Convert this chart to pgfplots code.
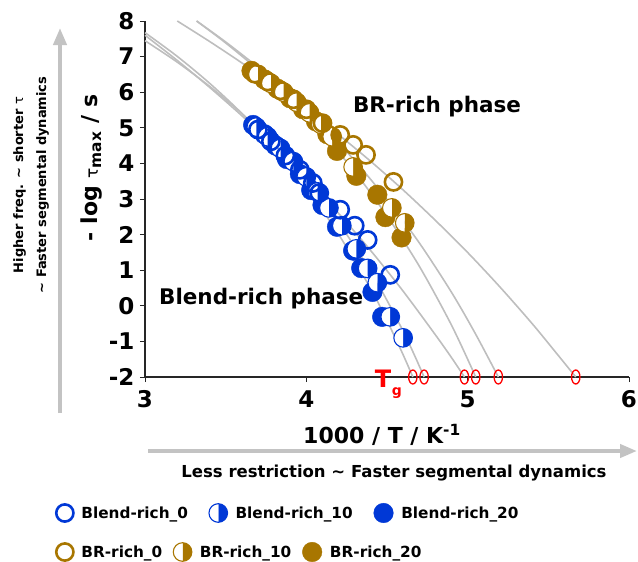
\documentclass[border=0pt]{standalone}
\usepackage{pgfplots}
\pgfplotsset{compat=1.18}
\usepackage{fontspec}
\setmainfont{DejaVu Sans}
\usetikzlibrary{plotmarks,arrows.meta}
\definecolor{blendblue}{RGB}{0,56,214}
\definecolor{brbrown}{RGB}{168,118,0}
\definecolor{fitgray}{RGB}{190,190,190}
\definecolor{arrowgray}{RGB}{195,195,195}

\pgfplotsset{
  openmk/.style={only marks, mark=o, mark size=8.6pt, mark options={line width=2.6pt}},
  halfmk/.style={only marks, mark=halfcircle*, mark size=9.3pt, mark options={line width=1.1pt, rotate=-90, fill=#1, draw=#1}},
  fullmk/.style={only marks, mark=*, mark size=9.8pt},
  fit/.style={fitgray, line width=1.6pt, smooth, no markers, forget plot},
}

\begin{document}
\begin{tikzpicture}[x=1pt,y=1pt]
\path[use as bounding box] (0pt,0pt) rectangle (638pt,-562pt);

\begin{axis}[
  at={(145pt,-377pt)}, anchor=south west,
  scale only axis, width=484pt, height=356pt,
  xmin=3, xmax=6, ymin=-2, ymax=8,
  axis lines=left, axis line style={-, line width=1.1pt, black!85},
  xtick={3,4,5,6}, xticklabels={3,4,5,6},
  ytick={-2,-1,0,1,2,3,4,5,6,7,8},
  yticklabels={-2,-1,0,1,2,3,4,5,6,7,8},
  tick align=outside, major tick length=5pt,
  tick style={line width=0.9pt, black!85},
  ticklabel style={font=\fontsize{23}{26}\selectfont\bfseries},
  xticklabel style={yshift=-5pt},
  yticklabel style={xshift=-2pt},
  clip=false,
  legend columns=3,
  legend cell align=left,
  legend style={draw=none, fill=none, at={(-0.19,-0.382)}, anchor=west,
    font=\fontsize{15.3}{18}\selectfont\bfseries,
    /tikz/every even column/.append style={column sep=19pt}},
]
% Blend-rich phase data
\addplot[blendblue, fullmk, forget plot] coordinates {
  (3.67,5.08) (3.74,4.82) (3.81,4.50) (3.88,4.12) (3.96,3.70) (4.03,3.25)
  (4.10,2.83) (4.19,2.22) (4.29,1.55) (4.34,1.06) (4.41,0.39) (4.47,-0.31)};
\addplot[blendblue, halfmk=blendblue, forget plot] coordinates {
  (3.69,5.02) (3.76,4.75) (3.84,4.42) (3.92,4.05) (4.00,3.62) (4.07,3.20)
  (4.14,2.75) (4.22,2.25) (4.31,1.60) (4.38,1.05) (4.44,0.65) (4.52,-0.31) (4.60,-0.90)};
\addplot[blendblue, openmk, forget plot] coordinates {
  (3.70,4.95) (3.78,4.62) (3.87,4.22) (3.96,3.82) (4.04,3.45) (4.08,3.17)
  (4.21,2.70) (4.30,2.25) (4.38,1.85) (4.52,0.87)};
% BR-rich phase data
\addplot[brbrown, fullmk, forget plot] coordinates {
  (3.66,6.60) (3.74,6.36) (3.82,6.10) (3.90,5.83) (3.98,5.52) (4.06,5.18)
  (4.13,4.82) (4.19,4.35) (4.31,3.65) (4.44,3.12) (4.49,2.49) (4.59,1.92)};
\addplot[brbrown, halfmk=brbrown, forget plot] coordinates {
  (3.70,6.50) (3.78,6.25) (3.86,6.00) (3.94,5.72) (4.02,5.42) (4.09,5.10)
  (4.16,4.75) (4.29,3.90) (4.53,2.75) (4.61,2.33)};
\addplot[brbrown, openmk, forget plot] coordinates {
  (3.68,6.52) (3.76,6.30) (3.84,6.05) (3.92,5.80) (4.00,5.52) (4.10,5.13)
  (4.21,4.80) (4.29,4.52) (4.37,4.24) (4.54,3.48)};

% VFT fit curves
\addplot[fit] coordinates {(3.0,7.673) (3.2,7.006) (3.4,6.253) (3.6,5.405) (3.8,4.434) (4.0,3.312) (4.2,2.007) (4.4,0.472) (4.5,-0.416) (4.6,-1.375) (4.66,-2)};
\addplot[fit] coordinates {(3.0,7.447) (3.2,6.844) (3.4,6.166) (3.6,5.400) (3.8,4.525) (4.0,3.513) (4.2,2.337) (4.4,0.952) (4.5,0.152) (4.6,-0.713) (4.67,-1.385) (4.73,-2)};
\addplot[fit] coordinates {(3.0,7.6) (3.2,6.891) (3.4,6.138) (3.6,5.340) (3.8,4.488) (4.0,3.571) (4.2,2.593) (4.4,1.545) (4.6,0.411) (4.8,-0.816) (4.9,-1.456) (4.98,-2)};
\addplot[fit] coordinates {(3.2,8) (3.4,7.426) (3.6,6.824) (3.8,6.189) (4.0,5.516) (4.2,4.806) (4.4,4.054) (4.6,3.254) (4.8,2.399) (5.0,1.497) (5.2,0.529) (5.4,-0.502) (5.55,-1.33) (5.67,-2)};
\addplot[fit] coordinates {(3.32,8) (3.5,7.411) (3.7,6.70) (3.9,5.911) (4.1,5.041) (4.3,4.076) (4.5,2.984) (4.7,1.769) (4.9,0.378) (5.05,-0.801) (5.19,-2)};
\addplot[fit] coordinates {(3.32,8) (3.5,7.384) (3.7,6.631) (3.9,5.784) (4.1,4.834) (4.3,3.763) (4.5,2.525) (4.7,1.114) (4.9,-0.545) (5.05,-2)};

% Tg markers
\addplot[red, only marks, mark=o, mark size=7pt, mark options={xscale=0.6, line width=1.3pt}, forget plot]
  coordinates {(4.66,-2) (4.73,-2) (4.98,-2) (5.05,-2) (5.19,-2) (5.67,-2)};

\node[font=\fontsize{21.5}{24}\selectfont\bfseries] at (axis cs:4.81,5.60) {BR-rich phase};
\node[font=\fontsize{21.5}{24}\selectfont\bfseries] at (axis cs:3.72,0.20) {Blend-rich phase};

\addlegendimage{blendblue, openmk}
\addlegendentry{\hspace{6pt}Blend-rich\_0}
\addlegendimage{blendblue, halfmk=blendblue}
\addlegendentry{\hspace{6pt}Blend-rich\_10}
\addlegendimage{blendblue, fullmk}
\addlegendentry{\hspace{6pt}Blend-rich\_20}
\end{axis}

\begin{axis}[
  at={(145pt,-377pt)}, anchor=south west,
  scale only axis, width=484pt, height=356pt,
  hide axis, xmin=0, xmax=1, ymin=0, ymax=1,
  legend columns=3,
  legend cell align=left,
  legend style={draw=none, fill=none, at={(-0.19,-0.4916)}, anchor=west,
    font=\fontsize{15.3}{18}\selectfont\bfseries,
    /tikz/every even column/.append style={column sep=9pt}},
]
\addlegendimage{brbrown, openmk}
\addlegendentry{\hspace{6pt}BR-rich\_0}
\addlegendimage{brbrown, halfmk=brbrown}
\addlegendentry{\hspace{6pt}BR-rich\_10}
\addlegendimage{brbrown, fullmk}
\addlegendentry{\hspace{6pt}BR-rich\_20}
\end{axis}

% labels and arrows
\node[text=red, font=\fontsize{24}{28}\selectfont\bfseries] at (383pt,-379pt) {T};
\node[text=red, font=\fontsize{14}{16}\selectfont\bfseries] at (397pt,-393pt) {g};
\node[rotate=90, font=\fontsize{22}{26}\selectfont\bfseries] at (92pt,-168pt)
  {- log {\mdseries\fontsize{17}{20}\selectfont τ}\textsubscript{max} / s};
\node[font=\fontsize{22}{26}\selectfont\bfseries] at (382pt,-435pt) {1000 / T / K\textsuperscript{-1}};
\draw[arrowgray, line width=4pt, -{Triangle[length=17pt,width=13pt]}] (148pt,-451pt) -- (637pt,-451pt);
\node[font=\fontsize{16.5}{20}\selectfont\bfseries] at (394pt,-473pt) {Less restriction \textasciitilde{} Faster segmental dynamics};
\draw[arrowgray, line width=4pt, -{Triangle[length=17pt,width=13pt]}] (60pt,-413pt) -- (60pt,-28pt);
\node[rotate=90, align=center, font=\fontsize{13}{23}\selectfont\bfseries] at (31pt,-185pt)
  {Higher freq. \textasciitilde{} shorter {\mdseries τ}\\ \textasciitilde{} Faster segmental dynamics};
\end{tikzpicture}
\end{document}
